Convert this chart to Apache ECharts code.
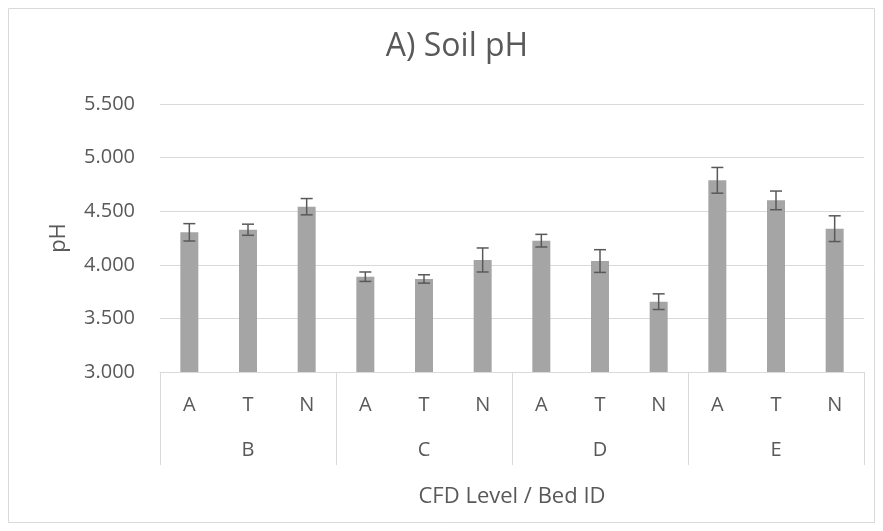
<!DOCTYPE html>
<html><head><meta charset="utf-8">
<script src="https://cdn.jsdelivr.net/npm/echarts@6/dist/echarts.min.js"></script>
<style>html,body{margin:0;padding:0;background:#fff}#c{width:883px;height:531px}</style>
</head><body><div id="c"></div>
<script>
var subCategories = ['A','T','N','A','T','N','A','T','N','A','T','N'];
var groups = ['B','C','D','E'];
var meanPH = [4.303, 4.327, 4.542, 3.889, 3.868, 4.045, 4.225, 4.035, 3.656, 4.788, 4.601, 4.337];
var errPH  = [0.081, 0.052, 0.076, 0.044, 0.039, 0.112, 0.059, 0.106, 0.073, 0.120, 0.087, 0.120];

var FONT = 'Open Sans';
var TXT = '#595959';
var chart = echarts.init(document.getElementById('c'));
var errData = meanPH.map(function(v,i){return [i, v - errPH[i], v + errPH[i]];});
chart.setOption({
  animation: false,
  backgroundColor: '#fff',
  textStyle: {fontFamily: FONT},
  title: {text: 'A) Soil pH', left: 452, top: 26, textAlign: 'center',
    textStyle: {fontFamily: FONT, fontSize: 32, fontWeight: 'normal', color: TXT}},
  graphic: [{type: 'rect', shape: {x: 8.5, y: 8.5, width: 866, height: 514},
    style: {fill: 'none', stroke: '#d9d9d9', lineWidth: 1}, silent: true}],
  grid: {left: 160, right: 19, top: 104, bottom: 159, containLabel: false},
  xAxis: [{
    type: 'category', data: subCategories, position: 'bottom',
    axisLine: {lineStyle: {color: '#d9d9d9', width: 1}},
    axisTick: {show: false},
    axisLabel: {color: TXT, fontSize: 20, margin: 23, fontFamily: FONT}
  }, {
    type: 'category', data: groups, position: 'bottom',
    axisLine: {show: false},
    axisTick: {show: true, length: 93, lineStyle: {color: '#d9d9d9', width: 1}},
    axisLabel: {color: TXT, fontSize: 20, margin: 68, fontFamily: FONT},
    name: 'CFD Level / Bed ID', nameLocation: 'middle', nameGap: 114,
    nameTextStyle: {color: TXT, fontSize: 22, fontFamily: FONT}
  }],
  yAxis: {
    type: 'value', min: 3, max: 5.5, interval: 0.5,
    axisLine: {show: false}, axisTick: {show: false},
    axisLabel: {color: TXT, fontSize: 20, margin: 25, fontFamily: FONT,
      formatter: function(v){return v.toFixed(3);}},
    splitLine: {lineStyle: {color: '#d9d9d9', width: 1}},
    name: 'pH', nameLocation: 'middle', nameGap: 90,
    nameTextStyle: {color: TXT, fontSize: 22, fontFamily: FONT}
  },
  series: [{
    type: 'bar', xAxisIndex: 0, data: meanPH, barWidth: 18,
    itemStyle: {color: '#a5a5a5'}
  }, {
    type: 'custom', xAxisIndex: 0, data: errData, z: 10,
    renderItem: function(params, api){
      var x = api.value(0);
      var lo = api.coord([x, api.value(1)]);
      var hi = api.coord([x, api.value(2)]);
      var h = 6;
      var st = {stroke: '#595959', lineWidth: 1.5};
      return {type: 'group', children: [
        {type: 'line', shape: {x1: lo[0], y1: lo[1], x2: hi[0], y2: hi[1]}, style: st},
        {type: 'line', shape: {x1: lo[0]-h, y1: lo[1], x2: lo[0]+h, y2: lo[1]}, style: st},
        {type: 'line', shape: {x1: hi[0]-h, y1: hi[1], x2: hi[0]+h, y2: hi[1]}, style: st}
      ]};
    }
  }]
});
</script></body></html>
